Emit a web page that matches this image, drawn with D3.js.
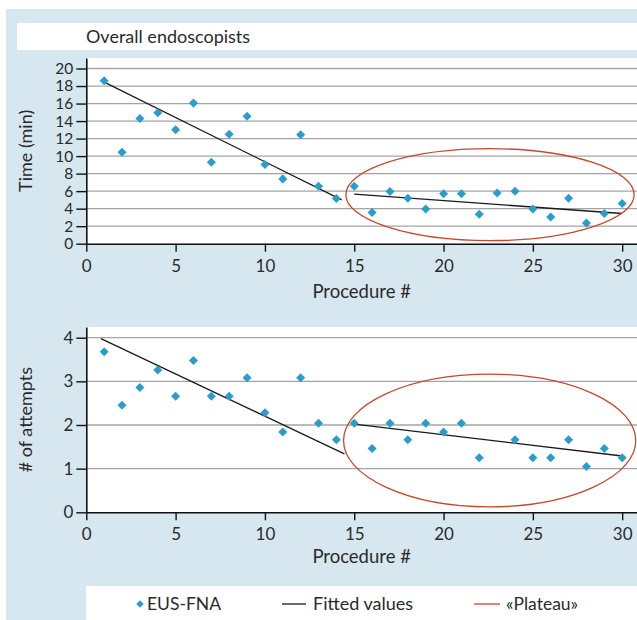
<!DOCTYPE html>
<html>
<head>
<meta charset="utf-8">
<script src="https://cdn.jsdelivr.net/npm/d3@7"></script>
<style>
  body { margin: 0; background: #fff; }
  text { font-family: Lato, "Noto Sans", sans-serif; fill: #2a2a2a; }
</style>
</head>
<body>
<div id="chart"></div>
<script>
// procedure number 1..30
const procedures = d3.range(1, 31);

// time (min) per procedure
const timeValues = [18.6, 10.45, 14.3, 14.95, 13.0, 16.05, 9.3, 12.5, 14.55, 9.05,
                    7.4, 12.45, 6.55, 5.15, 6.55, 3.55, 5.95, 5.2, 3.95, 5.7,
                    5.7, 3.35, 5.8, 6.0, 3.95, 3.05, 5.2, 2.35, 3.45, 4.6];

// number of attempts per procedure (no point visible at #23)
const attemptValues = [3.68, 2.45, 2.86, 3.26, 2.66, 3.48, 2.66, 2.66, 3.08, 2.28,
                       1.84, 3.08, 2.04, 1.66, 2.04, 1.46, 2.04, 1.66, 2.04, 1.84,
                       2.04, 1.25, null, 1.66, 1.25, 1.25, 1.66, 1.05, 1.46, 1.25];

// fitted segments [x0, y0, x1, y1]
const timeFits = [[1, 18.45, 14.3, 5.0], [15, 5.65, 30, 3.45]];
const attemptFits = [[0.82, 3.98, 14.45, 1.34], [15, 2.02, 30, 1.29]];

// plateau ellipse [cx, cy, rx, ry] in data units
const timePlateau = [22.6, 5.6, 8.07, 5.25];
const attemptPlateau = [22.58, 1.645, 8.18, 1.52];

const timeTicks = d3.range(0, 21, 2);
const attemptTicks = [0, 1, 2, 3, 4];
const xTicks = [0, 5, 10, 15, 20, 25, 30];

const W = 637, H = 620;
const blue = "#2b9dca", red = "#c9472b", panelBg = "#d7e7f0";

const svg = d3.select("#chart").append("svg")
    .attr("width", W).attr("height", H);

// light blue panel
svg.append("rect").attr("x", 6).attr("y", 9).attr("width", W - 6).attr("height", H - 9)
    .attr("fill", panelBg);

// title strip
svg.append("rect").attr("x", 17).attr("y", 23).attr("width", W - 17).attr("height", 27)
    .attr("fill", "#fff");
svg.append("text").attr("x", 86).attr("y", 43).style("font-size", "18px")
    .text("Overall endoscopists");

const x = d3.scaleLinear().domain([0, 30.83]).range([86.3, 637]);

function panel(top, bottom, yMax, ticks, values, fits, plateau, yLabel, titleGap, tickFont) {
    const y = d3.scaleLinear().domain([0, yMax]).range([bottom, top]);
    const g = svg.append("g");

    g.append("rect").attr("x", x(0)).attr("y", top)
        .attr("width", W - x(0)).attr("height", bottom - top).attr("fill", "#fff");

    // grid
    g.selectAll(".grid").data(ticks.filter(d => d > 0)).enter().append("line")
        .attr("x1", x(0)).attr("x2", W)
        .attr("y1", d => y(d)).attr("y2", d => y(d))
        .attr("stroke", "#a4a4a4").attr("stroke-width", 1.3);

    // fitted lines
    g.selectAll(".fit").data(fits).enter().append("line")
        .attr("x1", d => x(d[0])).attr("y1", d => y(d[1]))
        .attr("x2", d => x(d[2])).attr("y2", d => y(d[3]))
        .attr("stroke", "#1a1a1a").attr("stroke-width", 1.3);

    // plateau
    g.append("ellipse")
        .attr("cx", x(plateau[0])).attr("cy", y(plateau[1]))
        .attr("rx", x(plateau[0] + plateau[2]) - x(plateau[0]))
        .attr("ry", y(0) - y(plateau[3]))
        .attr("fill", "none").attr("stroke", red).attr("stroke-width", 1.3);

    // points
    const pts = procedures.map((p, i) => [p, values[i]]).filter(d => d[1] != null);
    g.selectAll(".pt").data(pts).enter().append("path")
        .attr("d", d3.symbol(d3.symbolDiamond2, 52))
        .attr("transform", d => `translate(${x(d[0])},${y(d[1])})`)
        .attr("fill", blue);

    // axes
    const ya = g.append("g").attr("transform", `translate(${x(0)},0)`)
        .call(d3.axisLeft(y).tickValues(ticks).tickFormat(d3.format("d"))
            .tickSize(10).tickSizeOuter(0).tickPadding(3));
    const xa = g.append("g").attr("transform", `translate(0,${bottom})`)
        .call(d3.axisBottom(x).tickValues(xTicks).tickSize(8).tickSizeOuter(0).tickPadding(8));
    [ya, xa].forEach(a => {
        a.select(".domain").attr("stroke", "#111").attr("stroke-width", 1.6);
        a.selectAll(".tick line").attr("stroke", "#111").attr("stroke-width", 1.4);
        a.selectAll(".tick text").attr("fill", "#2a2a2a")
            .style("font-family", "Lato, sans-serif").style("font-size", "17px");
    });
    ya.selectAll(".tick text").style("font-size", tickFont);

    g.append("text").attr("x", (x(0) + W) / 2).attr("y", bottom + titleGap)
        .attr("text-anchor", "middle").style("font-size", "18.5px").text("Procedure #");
    g.append("text")
        .attr("transform", `translate(32,${(top + bottom) / 2}) rotate(-90)`)
        .attr("text-anchor", "middle").style("font-size", "18px").text(yLabel);
}

panel(58, 243.7, 21.2, timeTicks, timeValues, timeFits, timePlateau, "Time (min)", 54, "15.5px");
panel(327, 512.3, 4.245, attemptTicks, attemptValues, attemptFits, attemptPlateau, "# of attempts", 51, "17px");

// legend
const lg = svg.append("g");
lg.append("rect").attr("x", 86).attr("y", 586).attr("width", W - 86).attr("height", H - 586)
    .attr("fill", "#fff");
lg.append("path").attr("d", d3.symbol(d3.symbolDiamond2, 36))
    .attr("transform", "translate(140,604)").attr("fill", blue);
lg.append("text").attr("x", 147).attr("y", 610).style("font-size", "17.5px").text("EUS-FNA");
lg.append("line").attr("x1", 282).attr("x2", 306).attr("y1", 604).attr("y2", 604)
    .attr("stroke", "#1a1a1a").attr("stroke-width", 1.3);
lg.append("text").attr("x", 313).attr("y", 610).style("font-size", "18px").text("Fitted values");
lg.append("line").attr("x1", 474).attr("x2", 500).attr("y1", 604).attr("y2", 604)
    .attr("stroke", red).attr("stroke-width", 1.3);
lg.append("text").attr("x", 506).attr("y", 610).style("font-size", "17.5px").text("«Plateau»");
</script>
</body>
</html>
